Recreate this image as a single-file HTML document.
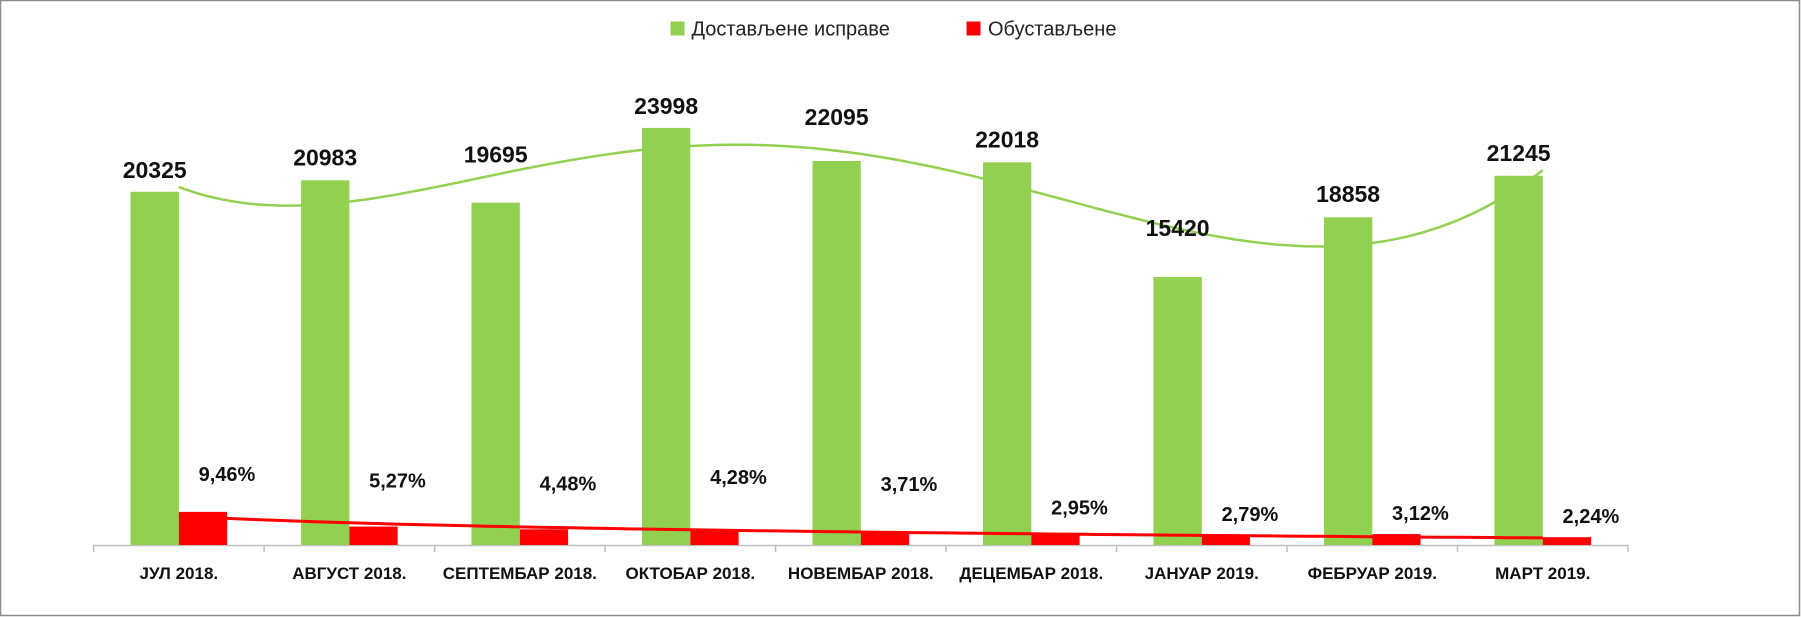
<!DOCTYPE html>
<html><head><meta charset="utf-8"><style>
html,body{margin:0;padding:0;background:#fff;}
svg{display:block;font-family:"Liberation Sans",sans-serif;}
</style></head><body>
<svg id="chart" width="1801" height="617" viewBox="0 0 1801 617" xmlns="http://www.w3.org/2000/svg">
<rect x="0.5" y="0.5" width="1799" height="615" fill="#fff" stroke="#8c8c8c" stroke-width="1.5"/>
<g>
<g>
<rect x="670.5" y="21.5" width="14" height="14" fill="#92d050"/>
<text x="691.5" y="35.5" font-size="20" fill="#222">Достављене исправе</text>
</g>
<g>
<rect x="966.5" y="21.5" width="14" height="14" fill="#ff0000"/>
<text x="988" y="35.5" font-size="20" fill="#222">Обустављене</text>
</g>
</g>
<g id="plot"></g>
</svg>
<script>
const categories = ["ЈУЛ 2018.","АВГУСТ 2018.","СЕПТЕМБАР 2018.","ОКТОБАР 2018.","НОВЕМБАР 2018.","ДЕЦЕМБАР 2018.","ЈАНУАР 2019.","ФЕБРУАР 2019.","МАРТ 2019."];
const delivered = [20325,20983,19695,23998,22095,22018,15420,18858,21245];
const suspendedPct = [9.46,5.27,4.48,4.28,3.71,2.95,2.79,3.12,2.24];
const pctLabels = ["9,46%","5,27%","4,48%","4,28%","3,71%","2,95%","2,79%","3,12%","2,24%"];

const NS="http://www.w3.org/2000/svg";
const plot=document.getElementById('plot');
const X0=93.6, X1=1628, BASE=545;
const catW=(X1-X0)/categories.length;
const barW=48.3;
const yG=v=>BASE - v*0.01738;
const yR=v=>BASE - v*3.5;
const xC=i=>X0+catW*(i+0.5);
function mk(tag,attrs){const e=document.createElementNS(NS,tag);for(const k in attrs)e.setAttribute(k,attrs[k]);return e;}

// polynomial least-squares fit
function polyFit(ys,deg){
  const n=ys.length, xs=ys.map((_,i)=>(i-(n-1)/2)/((n-1)/2));
  const m=deg+1, A=[];
  for(let r=0;r<m;r++){A.push([]);for(let c=0;c<m;c++){let s=0;for(let i=0;i<n;i++)s+=Math.pow(xs[i],r+c);A[r].push(s);}let s=0;for(let i=0;i<n;i++)s+=ys[i]*Math.pow(xs[i],r);A[r].push(s);}
  for(let c=0;c<m;c++){let p=c;for(let r=c+1;r<m;r++)if(Math.abs(A[r][c])>Math.abs(A[p][c]))p=r;[A[c],A[p]]=[A[p],A[c]];for(let r=0;r<m;r++){if(r===c)continue;const f=A[r][c]/A[c][c];for(let k=c;k<=m;k++)A[r][k]-=f*A[c][k];}}
  const co=A.map((row,i)=>row[m]/row[i]);
  return t=>{const x=(t-(n-1)/2)/((n-1)/2);let s=0;for(let i=0;i<m;i++)s+=co[i]*Math.pow(x,i);return s;};
}
function logFit(ys){
  const n=ys.length;const lx=ys.map((_,i)=>Math.log(i+1));
  const mx=lx.reduce((a,b)=>a+b)/n, my=ys.reduce((a,b)=>a+b)/n;
  let sxy=0,sxx=0;for(let i=0;i<n;i++){sxy+=(lx[i]-mx)*(ys[i]-my);sxx+=(lx[i]-mx)**2;}
  const b=sxy/sxx,a=my-b*mx;return t=>a+b*Math.log(t+1);
}

// axis
const axis=mk('line',{x1:X0,y1:BASE+0.5,x2:X1,y2:BASE+0.5,stroke:'#bfbfbf','stroke-width':1.5});


plot.appendChild(axis);
for(let i=0;i<=categories.length;i++){
  const t=mk('line',{x1:X0+catW*i,y1:BASE,x2:X0+catW*i,y2:BASE+7,stroke:'#bfbfbf','stroke-width':1.5});
  
  
  plot.appendChild(t);
}

// green trendline (behind bars)
const gFit=polyFit(delivered,5);
let d='';
for(let s=0;s<=160;s++){const t=s/160*(categories.length-1);d+=(s?'L':'M')+(xC(t)).toFixed(1)+','+yG(gFit(t)).toFixed(1);}
const gl=mk('path',{d:d,fill:'none',stroke:'#92d050','stroke-width':2.5});


plot.appendChild(gl);

const gDy=[14,15,40,14,36,15,41,15,15];
const pDy=[31,39,39,46,41,20,14,14,14];
categories.forEach((c,i)=>{
  const cx=xC(i);
  const gb=mk('rect',{x:cx-barW,y:yG(delivered[i]),width:barW,height:BASE-yG(delivered[i]),fill:'#92d050'});
  
  
  plot.appendChild(gb);
  const rb=mk('rect',{x:cx,y:yR(suspendedPct[i]),width:barW,height:BASE-yR(suspendedPct[i]),fill:'#ff0000'});
  
  
  plot.appendChild(rb);
  const gt=mk('text',{x:cx-barW/2,y:yG(delivered[i])-gDy[i],'font-size':23,'font-weight':'bold','text-anchor':'middle',fill:'#111'});
  gt.textContent=delivered[i];
  
  
  plot.appendChild(gt);
  const pt=mk('text',{x:cx+barW/2+24,y:yR(suspendedPct[i])-pDy[i],'font-size':20,'font-weight':'bold','text-anchor':'middle',fill:'#111'});
  pt.textContent=pctLabels[i];
  
  
  plot.appendChild(pt);
  const ct=mk('text',{x:cx,y:579,'font-size':17,'font-weight':'bold','text-anchor':'middle',fill:'#111'});
  ct.textContent=c;
  
  
  plot.appendChild(ct);
});

// red trendline (over bars)
const rFit=logFit(suspendedPct);
let d2='';
for(let s=0;s<=80;s++){const t=s/80*(categories.length-1);d2+=(s?'L':'M')+(xC(t)).toFixed(1)+','+yR(rFit(t)).toFixed(1);}
const rl=mk('path',{d:d2,fill:'none',stroke:'#ff0000','stroke-width':3});


plot.appendChild(rl);
</script>
</body></html>
